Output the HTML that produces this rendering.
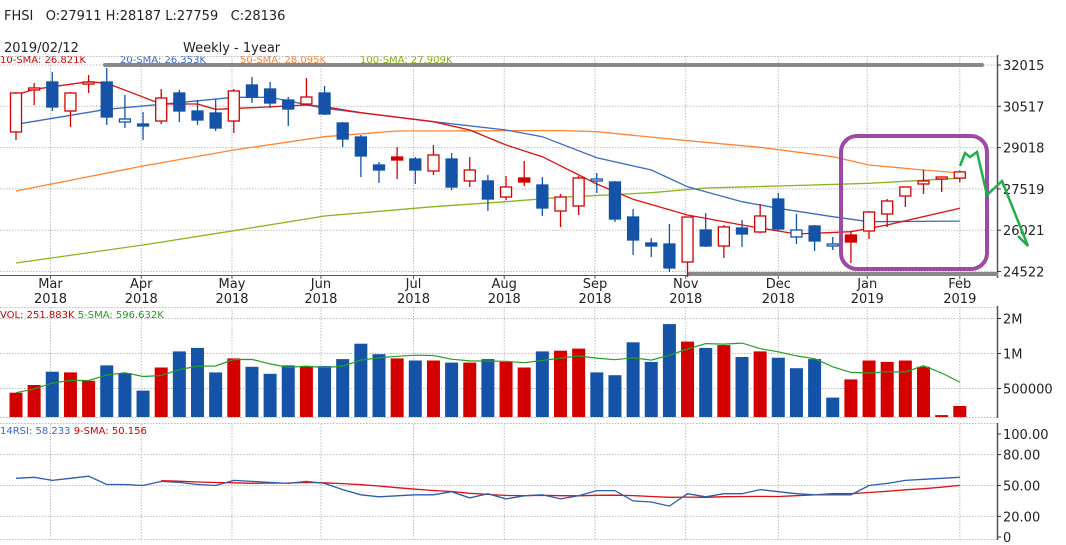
<!DOCTYPE html>
<html><head><meta charset="utf-8"><style>
html,body{margin:0;padding:0;background:#fff;}
svg{display:block;font-family:"DejaVu Sans","Liberation Sans",sans-serif;}
.pre{white-space:pre;}
</style></head><body>
<svg id="chart" width="1066" height="545" viewBox="0 0 1066 545">
<text class="pre" x="4" y="20" font-size="13" fill="#222">FHSI   O:27911 H:28187 L:27759   C:28136</text>
<text x="4" y="52" font-size="13" fill="#222">2019/02/12</text>
<text x="183" y="52" font-size="13" fill="#222">Weekly - 1year</text>
<g font-size="10">
<text x="0" y="63" fill="#d00000">10-SMA: 26.821K</text>
<text x="120" y="63" fill="#3366cc">20-SMA: 26.353K</text>
<text x="240" y="63" fill="#ff7f27">50-SMA: 28.095K</text>
<text x="360" y="63" fill="#88b000">100-SMA: 27.909K</text>
</g>
<g id="grid"></g>
<g id="price"></g>
<g id="vol"></g>
<g id="rsi"></g>
<text x="0" y="318" font-size="10" fill="#d00000">VOL: 251.883K <tspan fill="#22a022">5-SMA: 596.632K</tspan></text>
<text x="0" y="434" font-size="10" fill="#3366cc">14RSI: 58.233 <tspan fill="#d00000">9-SMA: 50.156</tspan></text>
<rect x="841" y="136" width="146" height="133" rx="16" fill="none" stroke="#9e4aa4" stroke-width="4"/>
<polyline points="960,166 965,153 970,157 977,152 987,195 1002,181 1028,246 1018,236" fill="none" stroke="#1fae4a" stroke-width="2.5"/>
</svg>
<script>
const opens=[29584,31144,31398,30346,31362,31398,29947,29875,29983,30999,30346,30274,29983,31289,31144,30745,30600,30999,29911,29403,28387,28677,28605,28169,28605,27807,27807,27226,27915,27661,26718,26900,27807,27770,26500,25557,25521,24868,26029,25448,26101,25956,27153,25775,26174,25485,25847,25993,26609,27262,27698,27879,27911];
const highs=[31035,31362,31761,31035,31652,31906,30927,30310,31144,31108,30745,30781,31144,31580,31398,30854,31543,31253,29947,29475,28496,29040,28677,29113,28822,28677,28024,27988,28532,27952,27335,27988,28097,27807,26791,25739,26246,26500,26646,26210,26392,26972,27371,26609,26210,25775,25993,26718,27153,27589,28206,27952,28187];
const lows=[29294,30564,30346,29766,30999,29838,29729,29294,29875,29947,29838,29621,29548,30636,30455,29802,30564,30201,29040,27952,27734,27879,27698,28024,27480,27589,26718,27117,27625,26537,26138,26573,27371,26319,25122,25049,24505,24324,25412,25013,25412,25920,25993,25521,25267,25303,24831,25702,26138,26863,27335,27407,27759];
const closes=[30999,31181,30491,30999,31398,30128,30056,29838,30818,30346,30020,29729,31072,30854,30636,30419,30854,30237,29330,28714,28206,28568,28206,28750,27589,28206,27153,27589,27770,26827,27226,27915,27879,26428,25666,25448,24650,26500,25448,26138,25884,26537,26065,26029,25630,25521,25593,26682,27081,27589,27807,27952,28136];
const volumes=[0.44,0.55,0.74,0.73,0.61,0.83,0.72,0.47,0.80,1.03,1.08,0.73,0.93,0.81,0.71,0.83,0.82,0.82,0.92,1.14,0.99,0.93,0.90,0.90,0.87,0.87,0.92,0.88,0.80,1.03,1.04,1.07,0.73,0.69,1.16,0.88,1.42,1.17,1.08,1.12,0.95,1.03,0.94,0.79,0.92,0.37,0.63,0.90,0.88,0.90,0.81,0.12,0.25];
const rsiValues=[57,58,55,57,59,51,51,50,54,53,51,50,55,54,53,52,54,52,46,41,39,40,41,41,44,38,42,37,40,41,37,40,45,45,35,34,30,42,39,42,42,46,44,42,41,41,41,50,52,55,56,57,58];
const sma10Idx=[0,1,4,5,8,10,11,13,16,17,19,23,25,27,29,32,34,37,40,43,46,48,52];
const sma10Val=[30927,31133,31409,31351,30600,30600,30408,30466,30564,30503,30285,29958,29657,29113,28688,27698,27142,26573,26210,25884,25967,26210,26821];
const sma20Idx=[0,5,8,12,14,17,20,23,27,29,32,35,37,40,42,45,47,52];
const sma20Val=[29864,30408,30589,30843,30843,30444,30201,29958,29657,29414,28652,28206,27600,27056,26816,26512,26330,26353];
const sma50Idx=[0,7,12,17,21,23,30,32,37,41,45,47,50,52];
const sma50Val=[27444,28351,28931,29414,29620,29620,29640,29595,29268,29029,28688,28387,28206,28095];
const sma100Idx=[0,7,12,17,23,27,30,35,38,42,47,52];
const sma100Val=[24832,25485,26003,26537,26874,27056,27215,27382,27553,27625,27723,27909];
const priceTicks=[32015,30517,29018,27519,26021,24522];
const monthLabels=["Mar","Apr","May","Jun","Jul","Aug","Sep","Nov","Dec","Jan","Feb"];
const monthYears=["2018","2018","2018","2018","2018","2018","2018","2018","2018","2019","2019"];
const monthPos=[1.9,6.9,11.9,16.8,21.9,26.9,31.9,36.9,42,46.9,52];
const volTicks=[1.5,1,0.5];
const volTickLabels=["2M","1M","500000"];
const rsiTicks=[100,80,50,20,0];
const rsiTickLabels=["100.00","80.00","50.00","20.00","0"];

const NS="http://www.w3.org/2000/svg";
function mk(parent,tag,attrs){const e=document.createElementNS(NS,tag);for(const k in attrs)e.setAttribute(k,attrs[k]);parent.appendChild(e);return e;}
const xAt=i=>16+i*18.15;
const yP=p=>65+(32015-p)*0.027562;
const yV=v=>423.5-v*70;
const yR=v=>537-v*1.03;
const RED="#d40000",BLUE="#1553a8";
const grid=document.getElementById('grid');
const price=document.getElementById('price');
const vol=document.getElementById('vol');
const rsi=document.getElementById('rsi');

function hline(y,x2){const l=mk(grid,'line',{x1:0,x2:x2,y1:y,y2:y,stroke:'#bbb','stroke-dasharray':'1.5,1.5'});

}
function axisLabel(g,y,txt,name){const t=mk(g,'text',{x:1003,y:y+5,'font-size':13,fill:'#222'});t.textContent=txt;


mk(g,'line',{x1:997,x2:1001,y1:y,y2:y,stroke:'#333'});}

hline(56.5,997);hline(307.5,997);hline(417.5,997);hline(423.5,997);hline(539.5,997);
mk(grid,'line',{x1:0,x2:997,y1:275.5,y2:275.5,stroke:'#555','stroke-width':1});
[[55,278],[306,418],[423,540]].forEach(r=>mk(grid,'line',{x1:997.5,x2:997.5,y1:r[0],y2:r[1],stroke:'#555','stroke-width':1.5}));
monthPos.forEach((m,k)=>{const x=xAt(m);
[[56,275],[307,418],[424,539]].forEach(r=>{const l=mk(grid,'line',{x1:x,x2:x,y1:r[0],y2:r[1],stroke:'#bbb','stroke-dasharray':'1.5,1.5'});

});
mk(grid,'line',{x1:x,x2:x,y1:275,y2:279,stroke:'#555'});
const t=mk(grid,'text',{x:x,y:288,'font-size':13,fill:'#222','text-anchor':'middle'});t.textContent=monthLabels[k];


const t2=mk(grid,'text',{x:x,y:303,'font-size':13,fill:'#222','text-anchor':'middle'});t2.textContent=monthYears[k];

});
priceTicks.forEach(p=>{hline(yP(p),997);axisLabel(grid,yP(p),String(p),'price-tick-label');});
volTicks.forEach((v,k)=>{hline(yV(v),997);axisLabel(grid,yV(v),volTickLabels[k],'volume-tick-label');});
rsiTicks.forEach((v,k)=>{if(v>0&&v<100)hline(yR(v),997);axisLabel(grid,yR(v),rsiTickLabels[k],'rsi-tick-label');});

const g1=mk(price,'line',{x1:105,x2:982,y1:65,y2:65,stroke:'#888','stroke-width':4,'stroke-linecap':'round'});


const g2=mk(price,'line',{x1:687,x2:998,y1:274,y2:274,stroke:'#888','stroke-width':4});



function smaLine(idx,val,color,name){const pts=idx.map((i,k)=>xAt(i).toFixed(1)+','+yP(val[k]).toFixed(1)).join(' ');
const l=mk(price,'polyline',{points:pts,fill:'none',stroke:color,'stroke-width':1.3});

}
smaLine(sma100Idx,sma100Val,'#8ab51c','sma100-line');
smaLine(sma50Idx,sma50Val,'#ff8533','sma50-line');
smaLine(sma20Idx,sma20Val,'#3a6cc4','sma20-line');
smaLine(sma10Idx,sma10Val,'#dd1111','sma10-line');

closes.forEach((c,i)=>{const o=opens[i],x=xAt(i);
const up=i===0?c>=o:c>=closes[i-1];const col=up?RED:BLUE;const hollow=c>o;
const g=mk(price,'g',{});


mk(g,'line',{x1:x,x2:x,y1:yP(highs[i]),y2:yP(lows[i]),stroke:col,'stroke-width':1.3});
const top=yP(Math.max(o,c)),bot=yP(Math.min(o,c));const h=Math.max(bot-top,2);
mk(g,'rect',{x:x-5.5,y:top,width:11,height:h,fill:hollow?'#fff':col,stroke:col,'stroke-width':1.3});
const b=mk(vol,'rect',{x:x-6.5,y:yV(volumes[i]),width:13,height:Math.max(0,417-yV(volumes[i])),fill:col});

});

const vs=volumes.map((v,i)=>{const s=volumes.slice(Math.max(0,i-4),i+1);return s.reduce((a,b)=>a+b,0)/s.length;});
const vl=mk(vol,'polyline',{points:vs.map((v,i)=>xAt(i).toFixed(1)+','+yV(v).toFixed(1)).join(' '),fill:'none',stroke:'#22a022','stroke-width':1.2});



const rs=[];rsiValues.forEach((v,i)=>{if(i>=8){const s=rsiValues.slice(i-8,i+1);rs.push([i,s.reduce((a,b)=>a+b,0)/9]);}});
const rl2=mk(rsi,'polyline',{points:rs.map(p=>xAt(p[0]).toFixed(1)+','+yR(p[1]).toFixed(1)).join(' '),fill:'none',stroke:'#dd1111','stroke-width':1.3});


const rl=mk(rsi,'polyline',{points:rsiValues.map((v,i)=>xAt(i).toFixed(1)+','+yR(v).toFixed(1)).join(' '),fill:'none',stroke:'#2a5cb0','stroke-width':1.3});


</script>
</body></html>
